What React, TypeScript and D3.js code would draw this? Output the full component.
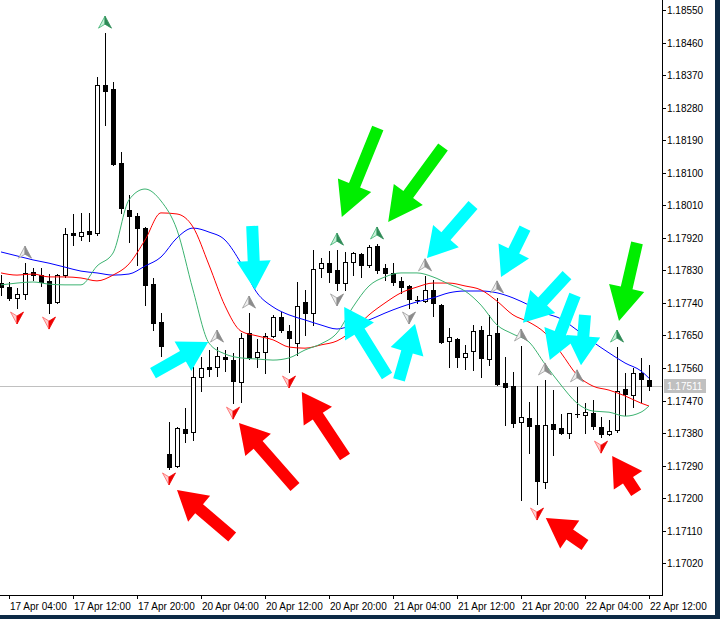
import React from 'react';
import * as d3 from 'd3';

// ---------- data ----------
const tickLabels = ['17 Apr 04:00', '17 Apr 12:00', '17 Apr 20:00', '20 Apr 04:00', '20 Apr 12:00', '20 Apr 20:00', '21 Apr 04:00', '21 Apr 12:00', '21 Apr 20:00', '22 Apr 04:00', '22 Apr 12:00'];
const tickBars = [1, 9, 17, 25, 33, 41, 49, 57, 65, 73, 81];
const priceTicks = [1.1855, 1.1846, 1.1837, 1.1828, 1.1819, 1.181, 1.1801, 1.1792, 1.1783, 1.1774, 1.1765, 1.1756, 1.1747, 1.1738, 1.1729, 1.172, 1.1711, 1.1702];
const lastPrice = 1.17511;

const opens = [1.17795, 1.17784, 1.17754, 1.17765, 1.17826, 1.17817, 1.17801, 1.17743, 1.17817, 1.17933,
  1.17925, 1.17939, 1.17933, 1.18343, 1.18332, 1.18127, 1.17997, 1.17980, 1.17947, 1.17792,
  1.17687, 1.17322, 1.17289, 1.17391, 1.17383, 1.17535, 1.17563, 1.17563, 1.17591, 1.17582,
  1.17521, 1.17657, 1.17591, 1.17604, 1.17649, 1.17701, 1.17662, 1.17629, 1.17743, 1.17712,
  1.17837, 1.17850, 1.17831, 1.17795, 1.17853, 1.17875, 1.17845, 1.17897, 1.17837, 1.17823,
  1.17801, 1.17787, 1.17748, 1.17745, 1.17776, 1.17734, 1.17635, 1.17640, 1.17591, 1.17607,
  1.17665, 1.17585, 1.17657, 1.17519, 1.17510, 1.17411, 1.17422, 1.17403, 1.17245, 1.17405,
  1.17394, 1.17380, 1.17433, 1.17430, 1.17436, 1.17397, 1.17378, 1.17389, 1.17502, 1.17485,
  1.17546, 1.17527];
const highs = [1.17817, 1.17798, 1.17781, 1.17850, 1.17837, 1.17837, 1.17820, 1.17820, 1.17947, 1.17986,
  1.17989, 1.17989, 1.18365, 1.18486, 1.18351, 1.18157, 1.18038, 1.17989, 1.17950, 1.17809,
  1.17712, 1.17411, 1.17397, 1.17450, 1.17563, 1.17591, 1.17610, 1.17618, 1.17610, 1.17602,
  1.17657, 1.17712, 1.17640, 1.17657, 1.17707, 1.17715, 1.17679, 1.17798, 1.17776, 1.17886,
  1.17864, 1.17883, 1.17886, 1.17880, 1.17880, 1.17878, 1.17900, 1.17903, 1.17848, 1.17850,
  1.17812, 1.17790, 1.17759, 1.17815, 1.17803, 1.17736, 1.17671, 1.17643, 1.17624, 1.17679,
  1.17676, 1.17707, 1.17754, 1.17591, 1.17549, 1.17621, 1.17466, 1.17510, 1.17527, 1.17499,
  1.17433, 1.17436, 1.17508, 1.17463, 1.17472, 1.17425, 1.17416, 1.17618, 1.17546, 1.17560,
  1.17588, 1.17568];
const lows = [1.17762, 1.17748, 1.17726, 1.17751, 1.17803, 1.17787, 1.17712, 1.17740, 1.17812, 1.17900,
  1.17914, 1.17911, 1.17928, 1.18232, 1.18121, 1.17989, 1.17909, 1.17845, 1.17734, 1.17665,
  1.17593, 1.17281, 1.17286, 1.17356, 1.17361, 1.17497, 1.17538, 1.17538, 1.17552, 1.17463,
  1.17466, 1.17585, 1.17563, 1.17546, 1.17646, 1.17660, 1.17549, 1.17596, 1.17651, 1.17679,
  1.17812, 1.17798, 1.17776, 1.17776, 1.17817, 1.17812, 1.17839, 1.17823, 1.17803, 1.17790,
  1.17768, 1.17726, 1.17740, 1.17743, 1.17704, 1.17629, 1.17563, 1.17563, 1.17557, 1.17555,
  1.17535, 1.17568, 1.17513, 1.17403, 1.17397, 1.17195, 1.17325, 1.17184, 1.17228, 1.17320,
  1.17378, 1.17367, 1.17425, 1.17380, 1.17391, 1.17369, 1.17375, 1.17383, 1.17430, 1.17452,
  1.17466, 1.17499];
const closes = [1.17784, 1.17754, 1.17765, 1.17823, 1.17817, 1.17798, 1.17740, 1.17817, 1.17931, 1.17928,
  1.17936, 1.17931, 1.18343, 1.18326, 1.18124, 1.18003, 1.17980, 1.17947, 1.17790, 1.17685,
  1.17621, 1.17286, 1.17394, 1.17380, 1.17535, 1.17560, 1.17557, 1.17593, 1.17585, 1.17524,
  1.17643, 1.17588, 1.17604, 1.17649, 1.17701, 1.17665, 1.17643, 1.17732, 1.17712, 1.17834,
  1.17850, 1.17826, 1.17795, 1.17853, 1.17878, 1.17845, 1.17895, 1.17831, 1.17823, 1.17798,
  1.17784, 1.17751, 1.17747, 1.17776, 1.17740, 1.17632, 1.17646, 1.17591, 1.17602, 1.17662,
  1.17588, 1.17651, 1.17516, 1.17508, 1.17408, 1.17425, 1.17400, 1.17248, 1.17403, 1.17391,
  1.17380, 1.17436, 1.17432, 1.17438, 1.17400, 1.17378, 1.17386, 1.17497, 1.17488, 1.17546,
  1.17530, 1.17511];

// indicator lines sampled every second bar (bar index in lineIdx)
const lineIdx = [0, 2, 4, 6, 8, 10, 12, 14, 16, 18, 20, 22, 24, 26, 28, 30, 32, 34, 36, 38, 40,
  42, 44, 46, 48, 50, 52, 54, 56, 58, 60, 62, 64, 66, 68, 70, 72, 74, 76, 78, 80, 81];
const blueLine = [1.17881, 1.17870, 1.17859, 1.17850, 1.17839, 1.17828, 1.17823, 1.17817, 1.17820, 1.17842,
  1.17867, 1.17920, 1.17947, 1.17936, 1.17914, 1.17850, 1.17768, 1.17729, 1.17707, 1.17693,
  1.17679, 1.17668, 1.17679, 1.17693, 1.17712, 1.17729, 1.17743, 1.17754, 1.17768, 1.17773,
  1.17773, 1.17768, 1.17754, 1.17734, 1.17712, 1.17696, 1.17665, 1.17632, 1.17602, 1.17574,
  1.17552, 1.17532];
const redLine = [1.17823, 1.17817, 1.17820, 1.17812, 1.17812, 1.17809, 1.17801, 1.17817, 1.17848, 1.17914,
  1.17989, 1.17986, 1.17950, 1.17845, 1.17732, 1.17662, 1.17649, 1.17638, 1.17618, 1.17615,
  1.17624, 1.17635, 1.17665, 1.17707, 1.17740, 1.17768, 1.17784, 1.17795, 1.17795, 1.17787,
  1.17776, 1.17745, 1.17707, 1.17687, 1.17657, 1.17602, 1.17541, 1.17510, 1.17499, 1.17483,
  1.17463, 1.17455];
const greenLine = [1.17790, 1.17795, 1.17798, 1.17792, 1.17790, 1.17790, 1.17842, 1.17878, 1.18025, 1.18055,
  1.18022, 1.17942, 1.17776, 1.17629, 1.17599, 1.17588, 1.17585, 1.17582, 1.17588, 1.17610,
  1.17627, 1.17657, 1.17729, 1.17787, 1.17812, 1.17823, 1.17823, 1.17812, 1.17792, 1.17773,
  1.17734, 1.17679, 1.17654, 1.17632, 1.17571, 1.17513, 1.17463, 1.17441, 1.17438, 1.17427,
  1.17438, 1.17455];

// fractal-style markers (bar indices)
const upGrayBars = [3, 27, 31, 53, 62, 65, 68, 72];
const upGreenBars = [13, 42, 47, 77];
const downGrayBars = [42, 51];
const downRedBars = [2, 6, 21, 29, 36, 67, 75];

// annotation block arrows: tail (bar, price) -> tip (bar, price)
const arrowColor = ['green', 'green', 'green', 'cyan', 'cyan', 'cyan', 'cyan', 'cyan', 'cyan', 'cyan', 'cyan', 'cyan', 'red', 'red', 'red', 'red', 'red'];
const arrowFromBar = [47.1, 55.25, 79.5, 19.0, 31.4, 48.25, 49.75, 59.0, 65.5, 70.75, 71.75, 73.0, 28.9, 36.75, 43.0, 73.0, 79.4];
const arrowFromPrice = [1.18224, 1.18171, 1.17906, 1.17546, 1.17953, 1.17538, 1.17527, 1.18011, 1.17947, 1.17817, 1.17762, 1.17707, 1.17093, 1.17231, 1.17314, 1.17071, 1.17215];
const arrowToBar = [42.6, 48.4, 77.25, 25.9, 31.75, 42.9, 51.75, 53.25, 62.5, 65.25, 68.6, 72.5, 22.0, 29.75, 37.6, 68.1, 76.4];
const arrowToPrice = [1.17978, 1.17964, 1.17690, 1.17632, 1.17776, 1.17729, 1.17682, 1.17864, 1.17812, 1.17685, 1.17582, 1.17568, 1.17223, 1.17408, 1.17494, 1.17145, 1.17317];

// ---------- layout ----------
const W = 720, H = 619;
const axisX = 662, axisY = 595;
const FONT = 'Liberation Sans, Arial, sans-serif';
const arrowFill: Record<string, string> = { green: '#00ee00', cyan: '#00ffff', red: '#ff0000' };

function blockArrow(x0: number, y0: number, x1: number, y1: number, hl: number, hw: number, sw: number) {
  const dx = x0 - x1, dy = y0 - y1;
  const len = Math.hypot(dx, dy);
  const ux = dx / len, uy = dy / len;
  const nx = -uy, ny = ux;
  const bx = x1 + ux * hl, by = y1 + uy * hl;
  const pts = [
    [x1, y1],
    [bx + nx * hw, by + ny * hw],
    [bx + nx * sw, by + ny * sw],
    [x0 + nx * sw, y0 + ny * sw],
    [x0 - nx * sw, y0 - ny * sw],
    [bx - nx * sw, by - ny * sw],
    [bx - nx * hw, by - ny * hw],
  ];
  return pts.map(p => p[0].toFixed(1) + ',' + p[1].toFixed(1)).join(' ');
}

function Marker({ cx, cy, up, light, dark, outline }: any) {
  const s = up ? 1 : -1;
  const tip = [cx, cy - 6 * s];
  const lw = [cx - 6.5, cy + 6 * s];
  const rw = [cx + 6.5, cy + 6 * s];
  const notch = [cx, cy + 2 * s];
  const p = (a: number[][]) => a.map(q => q.join(',')).join(' ');
  return (
    <g>
      <polygon points={p([tip, notch, lw])} fill={light} stroke={outline} strokeWidth={0.8} />
      <polygon points={p([tip, rw, notch])} fill={dark} stroke={dark} strokeWidth={0.8} />
    </g>
  );
}

export default function App() {
  const x = d3.scaleLinear().domain([0, 81]).range([1, 649]);
  const y = d3.scaleLinear().domain([1.1855, 1.1702]).range([10, 563.35]);

  const mkLine = (vals: number[]) =>
    d3.line<number>()
      .x((_, i) => x(lineIdx[i]))
      .y(v => y(v))
      .curve(d3.curveMonotoneX)(vals) || '';

  const lastY = Math.round(y(lastPrice));

  return (
    <svg width={W} height={H} style={{ position: 'absolute', left: 0, top: 0, display: 'block', background: '#fff' }}>
      <defs>
        <clipPath id="plot"><rect x={0} y={0} width={axisX} height={axisY} /></clipPath>
      </defs>
      <rect x={0} y={0} width={W} height={H} fill="#ffffff" />

      <g clipPath="url(#plot)">
        {/* current price line */}
        <line x1={0} x2={axisX} y1={lastY + 0.5} y2={lastY + 0.5} stroke="#c0c0c0" strokeWidth={1} />

        {/* candles */}
        {opens.map((o, i) => {
          const c = closes[i];
          const cx = Math.round(x(i));
          const yo = Math.round(y(o)), yc = Math.round(y(c));
          const yh = Math.round(y(highs[i])), yl = Math.round(y(lows[i]));
          const top = Math.min(yo, yc), bot = Math.max(yo, yc);
          const bull = c > o;
          return (
            <g key={i}>
              <line x1={cx + 0.5} x2={cx + 0.5} y1={yh} y2={yl + 1} stroke="#000" strokeWidth={1} />
              {bot - top < 1 ? (
                <line x1={cx - 2} x2={cx + 3} y1={top + 0.5} y2={top + 0.5} stroke="#000" strokeWidth={1} />
              ) : (
                <rect x={cx - 1.5} y={top + 0.5} width={4} height={bot - top} fill={bull ? '#fff' : '#000'} stroke="#000" strokeWidth={1} />
              )}
            </g>
          );
        })}

        {/* indicator lines */}
        <path d={mkLine(blueLine)} fill="none" stroke="#0000ff" strokeWidth={1} />
        <path d={mkLine(redLine)} fill="none" stroke="#ff0000" strokeWidth={1} />
        <path d={mkLine(greenLine)} fill="none" stroke="#3cb371" strokeWidth={1} />

        {/* markers */}
        {upGrayBars.map(b => (
          <Marker key={'ug' + b} cx={x(b)} cy={y(highs[b]) - 11} up light="#eeeeee" dark="#8c8c8c" outline="#9a9a9a" />
        ))}
        {upGreenBars.map(b => (
          <Marker key={'ugr' + b} cx={x(b)} cy={y(highs[b]) - 11} up light="#c8f0d8" dark="#2e8b57" outline="#3cb371" />
        ))}
        {downGrayBars.map(b => (
          <Marker key={'dg' + b} cx={x(b)} cy={y(lows[b]) + 10} up={false} light="#eeeeee" dark="#8c8c8c" outline="#9a9a9a" />
        ))}
        {downRedBars.map(b => (
          <Marker key={'dr' + b} cx={x(b)} cy={y(lows[b]) + 10} up={false} light="#ffd0d0" dark="#ee0000" outline="#ff6060" />
        ))}

        {/* annotation arrows */}
        {arrowColor.map((col, i) => (
          <polygon key={'a' + i}
            points={blockArrow(x(arrowFromBar[i]), y(arrowFromPrice[i]), x(arrowToBar[i]), y(arrowToPrice[i]),
              col === 'green' ? 34 : 29, col === 'green' ? 18 : 17, 6)}
            fill={arrowFill[col]} />
        ))}
      </g>

      {/* price axis */}
      <line x1={axisX + 0.5} x2={axisX + 0.5} y1={0} y2={axisY + 1} stroke="#000" strokeWidth={1} />
      {priceTicks.map(p => {
        const yy = Math.round(y(p));
        return (
          <g key={p}>
            <line x1={axisX} x2={axisX + 4} y1={yy + 0.5} y2={yy + 0.5} stroke="#000" strokeWidth={1} />
            <text x={axisX + 5} y={yy} dy="0.35em" fontFamily={FONT} fontSize={10} fill="#000">{d3.format('.5f')(p)}</text>
          </g>
        );
      })}
      <rect x={axisX + 2} y={lastY - 7} width={42} height={14} fill="#c0c0c0" />
      <text x={axisX + 5} y={lastY} dy="0.35em" fontFamily={FONT} fontSize={10} fill="#ffffff">{d3.format('.5f')(lastPrice)}</text>

      {/* time axis */}
      <line x1={0} x2={axisX + 1} y1={axisY + 0.5} y2={axisY + 0.5} stroke="#000" strokeWidth={1} />
      {tickBars.map((b, i) => {
        const xx = Math.round(x(b));
        return (
          <g key={b}>
            <line x1={xx + 0.5} x2={xx + 0.5} y1={axisY} y2={axisY + 4} stroke="#000" strokeWidth={1} />
            <text x={xx + 1} y={606} dy="0.35em" fontFamily={FONT} fontSize={10} fill="#000">{tickLabels[i]}</text>
          </g>
        );
      })}

      {/* window frame */}
      <rect x={715} y={0} width={5} height={H} fill="#0d2a45" />
      <rect x={0} y={615} width={W} height={4} fill="#0d2a45" />
    </svg>
  );
}
